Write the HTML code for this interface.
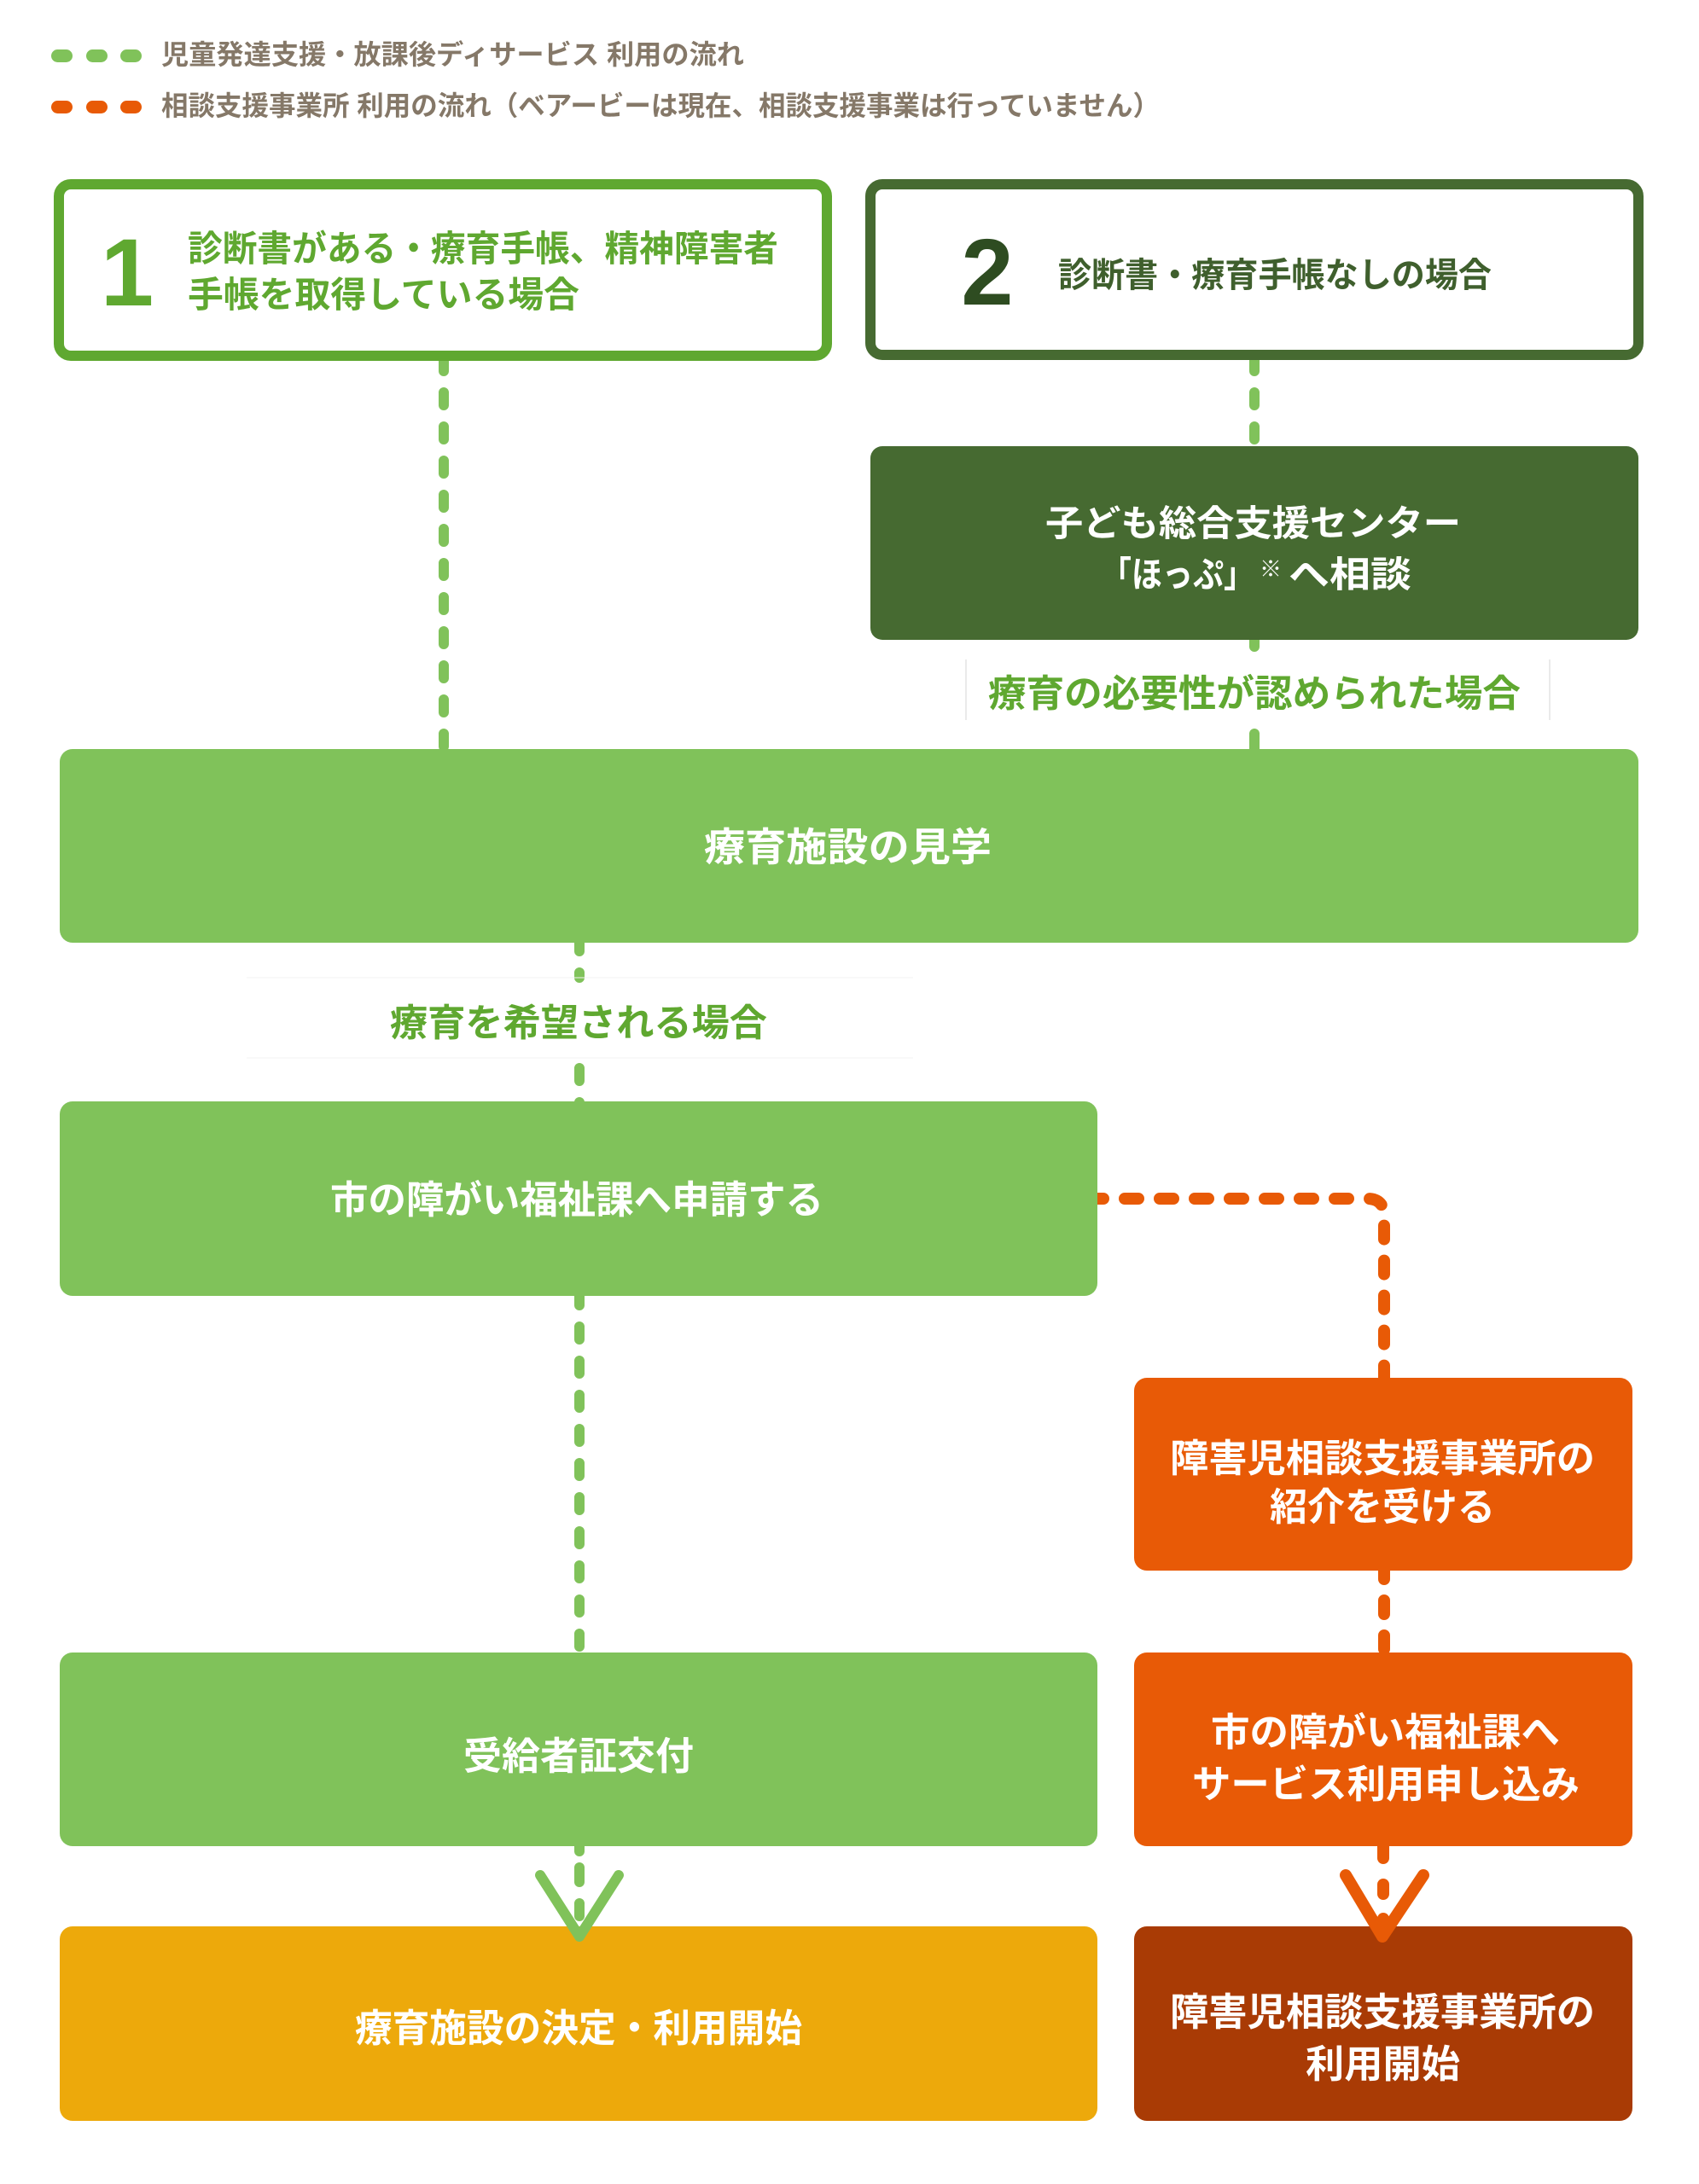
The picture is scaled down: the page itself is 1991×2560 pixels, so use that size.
<!DOCTYPE html>
<html lang="ja">
<head>
<meta charset="utf-8">
<style>
  html,body{margin:0;padding:0;background:#ffffff;}
  svg{display:block;}
  text{font-family:"Liberation Sans","Noto Sans CJK JP",sans-serif;font-weight:700;}
</style>
</head>
<body>
<svg width="1991" height="2560" viewBox="0 0 1991 2560" xmlns="http://www.w3.org/2000/svg">
  <rect x="0" y="0" width="1991" height="2560" fill="#ffffff"/>

  <!-- Legend -->
  <g fill="#80c25a">
    <rect x="60" y="58" width="25" height="15" rx="7.5"/>
    <rect x="101" y="58" width="25" height="15" rx="7.5"/>
    <rect x="141" y="58" width="25" height="15" rx="7.5"/>
  </g>
  <g fill="#e85a06">
    <rect x="60" y="118" width="25" height="15" rx="7.5"/>
    <rect x="101" y="118" width="25" height="15" rx="7.5"/>
    <rect x="141" y="118" width="25" height="15" rx="7.5"/>
  </g>
  <text x="189" y="75" font-size="32" fill="#857868" textLength="683" lengthAdjust="spacingAndGlyphs">児童発達支援・放課後ディサービス 利用の流れ</text>
  <text x="189" y="135" font-size="32" fill="#857868" textLength="1170" lengthAdjust="spacingAndGlyphs">相談支援事業所 利用の流れ（ベアービーは現在、相談支援事業は行っていません）</text>

  <!-- Connectors (green dashed) -->
  <g stroke="#80c25a" stroke-width="12" stroke-linecap="round" fill="none" stroke-dasharray="15 25">
    <line x1="520" y1="420" x2="520" y2="880"/>
    <line x1="1470" y1="420" x2="1470" y2="525"/>
    <line x1="679" y1="1100" x2="679" y2="1146"/>
    <line x1="679" y1="1252" x2="679" y2="1293"/>
    <line x1="679" y1="1515" x2="679" y2="1930"/>
  </g>
  <g stroke="#80c25a" stroke-width="12" stroke-linecap="round" fill="none">
    <line x1="1470" y1="748" x2="1470" y2="758"/>
    <line x1="1470" y1="860" x2="1470" y2="880"/>
    <line x1="679" y1="2160" x2="679" y2="2170"/>
    <line x1="679" y1="2189" x2="679" y2="2206"/>
    <line x1="679" y1="2231" x2="679" y2="2246"/>
  </g>

  <!-- Orange dashed -->
  <g stroke="#e85a06" stroke-width="14" stroke-linecap="round" fill="none">
    <path d="M1277 1405 H1602 Q1622 1405 1622 1425 V1620" stroke-dasharray="16 25"/>
    <line x1="1622" y1="1835" x2="1622" y2="1940" stroke-dasharray="16 25"/>
    <line x1="1621" y1="2160" x2="1621" y2="2178"/>
    <line x1="1621" y1="2209" x2="1621" y2="2220"/>
    <line x1="1621" y1="2249" x2="1621" y2="2256"/>
  </g>

  <!-- Box 1 -->
  <rect x="69" y="216" width="900" height="201" rx="14" fill="#ffffff" stroke="#5fa830" stroke-width="12"/>
  <text x="149" y="358" font-size="112" fill="#5fa830" text-anchor="middle">1</text>
  <text x="220" y="306" font-size="42" fill="#5fa830" textLength="692" lengthAdjust="spacingAndGlyphs">診断書がある・療育手帳、精神障害者</text>
  <text x="220" y="360" font-size="42" fill="#5fa830" textLength="459" lengthAdjust="spacingAndGlyphs">手帳を取得している場合</text>

  <!-- Box 2 -->
  <rect x="1020" y="216" width="900" height="200" rx="14" fill="#ffffff" stroke="#466a31" stroke-width="12"/>
  <text x="1157" y="357" font-size="110" fill="#2e4c21" text-anchor="middle">2</text>
  <text x="1240" y="336" font-size="40" fill="#3f5f2d" textLength="508" lengthAdjust="spacingAndGlyphs">診断書・療育手帳なしの場合</text>

  <!-- Dark green box -->
  <rect x="1020" y="523" width="900" height="227" rx="14" fill="#466a31"/>
  <text x="1225" y="628" font-size="42" fill="#ffffff" textLength="487" lengthAdjust="spacingAndGlyphs">子ども総合支援センター</text>
  <text x="1290" y="688" font-size="42" fill="#ffffff" textLength="180" lengthAdjust="spacingAndGlyphs">「ほっぷ」</text>
  <text x="1476" y="676" font-size="26" fill="#ffffff">※</text>
  <text x="1510" y="688" font-size="42" fill="#ffffff" textLength="144" lengthAdjust="spacingAndGlyphs">へ相談</text>

  <!-- Label: 療育の必要性が認められた場合 -->
  <line x1="1132" y1="773" x2="1132" y2="844" stroke="#e2e2e2" stroke-width="1.5"/>
  <line x1="1816" y1="773" x2="1816" y2="844" stroke="#e2e2e2" stroke-width="1.5"/>
  <text x="1158" y="828" font-size="44" fill="#5fa830" textLength="624" lengthAdjust="spacingAndGlyphs">療育の必要性が認められた場合</text>

  <!-- Big green box -->
  <rect x="70" y="878" width="1850" height="227" rx="15" fill="#80c25a"/>
  <text x="825" y="1009" font-size="46" fill="#ffffff" textLength="337" lengthAdjust="spacingAndGlyphs">療育施設の見学</text>

  <!-- Label: 療育を希望される場合 -->
  <line x1="289" y1="1146" x2="1070" y2="1146" stroke="#f3f3f3" stroke-width="1"/>
  <line x1="289" y1="1240" x2="1070" y2="1240" stroke="#f3f3f3" stroke-width="1"/>
  <text x="457" y="1214" font-size="44" fill="#5fa830" textLength="442" lengthAdjust="spacingAndGlyphs">療育を希望される場合</text>

  <!-- 市の障がい福祉課へ申請する -->
  <rect x="70" y="1291" width="1216" height="228" rx="15" fill="#80c25a"/>
  <text x="387" y="1422" font-size="45" fill="#ffffff" textLength="578" lengthAdjust="spacingAndGlyphs">市の障がい福祉課へ申請する</text>

  <!-- Orange box 1 -->
  <rect x="1329" y="1615" width="584" height="226" rx="15" fill="#e85a06"/>
  <text x="1371" y="1725" font-size="45" fill="#ffffff" textLength="498" lengthAdjust="spacingAndGlyphs">障害児相談支援事業所の</text>
  <text x="1488" y="1782" font-size="45" fill="#ffffff" textLength="264" lengthAdjust="spacingAndGlyphs">紹介を受ける</text>

  <!-- 受給者証交付 -->
  <rect x="70" y="1937" width="1216" height="227" rx="15" fill="#80c25a"/>
  <text x="543" y="2074" font-size="45" fill="#ffffff" textLength="270" lengthAdjust="spacingAndGlyphs">受給者証交付</text>

  <!-- Orange box 2 -->
  <rect x="1329" y="1937" width="584" height="227" rx="15" fill="#e85a06"/>
  <text x="1419" y="2046" font-size="45" fill="#ffffff" textLength="409" lengthAdjust="spacingAndGlyphs">市の障がい福祉課へ</text>
  <text x="1397" y="2107" font-size="45" fill="#ffffff" textLength="454" lengthAdjust="spacingAndGlyphs">サービス利用申し込み</text>

  <!-- Yellow box -->
  <rect x="70" y="2258" width="1216" height="228" rx="15" fill="#eda90b"/>
  <text x="416" y="2393" font-size="45" fill="#ffffff" textLength="524" lengthAdjust="spacingAndGlyphs">療育施設の決定・利用開始</text>

  <!-- Brown box -->
  <rect x="1329" y="2258" width="584" height="228" rx="15" fill="#a93b05"/>
  <text x="1371" y="2374" font-size="45" fill="#ffffff" textLength="498" lengthAdjust="spacingAndGlyphs">障害児相談支援事業所の</text>
  <text x="1530" y="2435" font-size="45" fill="#ffffff" textLength="181" lengthAdjust="spacingAndGlyphs">利用開始</text>

  <!-- Arrowheads -->
  <polyline points="633,2198 679,2270 725,2198" fill="none" stroke="#80c25a" stroke-width="12" stroke-linecap="round" stroke-linejoin="round"/>
  <polyline points="1577,2198 1620,2270 1668,2198" fill="none" stroke="#e85a06" stroke-width="14" stroke-linecap="round" stroke-linejoin="round"/>
</svg>
</body>
</html>
